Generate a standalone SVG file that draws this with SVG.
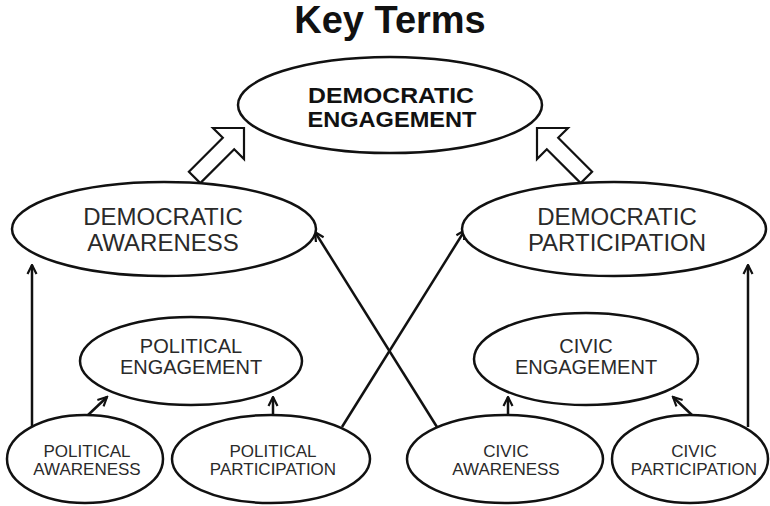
<svg xmlns="http://www.w3.org/2000/svg" width="770" height="506" viewBox="0 0 770 506">
<defs>
<style>
.n{fill:#fff;stroke:#111;stroke-width:2.5}
.t{font-family:"Liberation Sans",Arial,sans-serif;fill:#2a2a2a;text-anchor:middle}
.b{font-weight:bold;fill:#111}
.c{stroke:#111;stroke-width:2.5;fill:none}
.blk{fill:#fff;stroke:#111;stroke-width:2.2;stroke-linejoin:miter}
</style>
<marker id="ah" viewBox="0 0 12 12" refX="10.5" refY="6" markerWidth="12" markerHeight="12" markerUnits="userSpaceOnUse" orient="auto">
<path d="M1.5,1.5 L10.5,6 L1.5,10.5" fill="none" stroke="#111" stroke-width="2.2"/>
</marker>
</defs>
<rect width="770" height="506" fill="#fff"/>
<text class="t b" x="390" y="33" font-size="38">Key Terms</text>

<g id="connectors">
<polygon class="blk" points="244,128 213,128 222.8,137.8 188.9,171.7 200.3,183.1 234.2,149.2 244,159"/>
<polygon class="blk" points="537,128 568,128 558.2,137.8 592.1,171.7 580.7,183.1 546.8,149.2 537,159"/>
<line class="c" x1="32" y1="427" x2="32" y2="265" marker-end="url(#ah)"/>
<line class="c" x1="748" y1="427" x2="748" y2="265" marker-end="url(#ah)"/>
<line class="c" x1="437" y1="427" x2="315" y2="232" marker-end="url(#ah)"/>
<line class="c" x1="342" y1="427" x2="465" y2="230" marker-end="url(#ah)"/>
<line class="c" x1="87" y1="416" x2="107" y2="397" marker-end="url(#ah)"/>
<line class="c" x1="273" y1="416" x2="273" y2="397" marker-end="url(#ah)"/>
<line class="c" x1="508" y1="416" x2="508" y2="397" marker-end="url(#ah)"/>
<line class="c" x1="693" y1="416" x2="673" y2="397" marker-end="url(#ah)"/>
</g>

<g id="democratic-engagement">
<ellipse class="n" cx="390" cy="105" rx="152" ry="48"/>
<text class="t b" x="391" y="103" font-size="22" textLength="166" lengthAdjust="spacingAndGlyphs">DEMOCRATIC</text>
<text class="t b" x="392" y="127" font-size="22" textLength="169" lengthAdjust="spacingAndGlyphs">ENGAGEMENT</text>
</g>

<g id="democratic-awareness">
<ellipse class="n" cx="164" cy="229" rx="152" ry="47"/>
<text class="t" x="163" y="225" font-size="24">DEMOCRATIC</text>
<text class="t" x="163" y="251" font-size="24">AWARENESS</text>
</g>

<g id="democratic-participation">
<ellipse class="n" cx="614" cy="229" rx="152" ry="47"/>
<text class="t" x="617" y="225" font-size="24">DEMOCRATIC</text>
<text class="t" x="617" y="251" font-size="24">PARTICIPATION</text>
</g>

<g id="political-engagement">
<ellipse class="n" cx="191" cy="361" rx="111" ry="44"/>
<text class="t" x="191" y="353" font-size="20">POLITICAL</text>
<text class="t" x="191" y="374" font-size="20">ENGAGEMENT</text>
</g>

<g id="civic-engagement">
<ellipse class="n" cx="586" cy="359" rx="112" ry="46"/>
<text class="t" x="586" y="353" font-size="20">CIVIC</text>
<text class="t" x="586" y="374" font-size="20">ENGAGEMENT</text>
</g>

<g id="political-awareness">
<ellipse class="n" cx="85" cy="459" rx="78" ry="44"/>
<text class="t" x="87" y="457" font-size="17">POLITICAL</text>
<text class="t" x="87" y="475" font-size="17">AWARENESS</text>
</g>

<g id="political-participation">
<ellipse class="n" cx="271" cy="459" rx="99" ry="44"/>
<text class="t" x="273" y="457" font-size="17">POLITICAL</text>
<text class="t" x="273" y="475" font-size="17">PARTICIPATION</text>
</g>

<g id="civic-awareness">
<ellipse class="n" cx="505" cy="459" rx="98" ry="44"/>
<text class="t" x="506" y="457" font-size="17">CIVIC</text>
<text class="t" x="506" y="475" font-size="17">AWARENESS</text>
</g>

<g id="civic-participation">
<ellipse class="n" cx="690" cy="459" rx="78" ry="44"/>
<text class="t" x="694" y="457" font-size="17">CIVIC</text>
<text class="t" x="694" y="475" font-size="17">PARTICIPATION</text>
</g>
</svg>
